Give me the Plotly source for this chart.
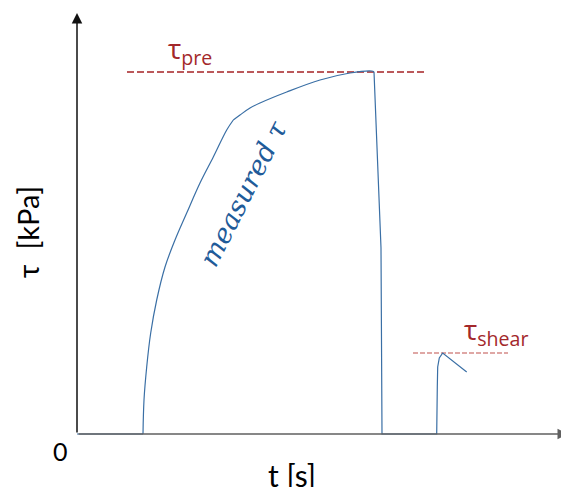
import plotly.graph_objects as go

# schematic tau(t) curve, arbitrary units (t across, tau up)
# loading ramp (smooth part up to the kink)
t_rise = [66, 67, 69.7, 73.7, 79.7, 88, 98, 109.7, 123, 136.3, 149.7, 156.3]
tau_rise = [0, 34, 67, 101, 134, 167, 194, 221, 251, 277, 304, 314]
# flattening towards tau_pre
t_top = [156.3, 163, 173, 183, 209.7, 243, 273, 294.7, 297]
tau_top = [314, 319, 326, 331, 342, 354, 361, 363, 362.3]
# unloading, rest and the shear peak
t_rest = [0, 66, None, 297, 299.7, 301, 304, 305, 359.7, 360.3, 360.7, 362.3, 365.7, 389.7]
tau_rest = [0, 0, None, 362.3, 299, 267, 186, 0, 0, 47, 67, 76, 81, 62]

tau_pre = 362
t_pre_line = [50, 349]
tau_shear = 81
t_shear_line = [336, 431]

blue = '#3a6fa5'
red = '#a3282b'

fig = go.Figure()

fig.add_trace(go.Scatter(x=t_pre_line, y=[tau_pre, tau_pre], mode='lines',
                         line=dict(color='#a52224', width=1.3, dash='7px,3px'), hoverinfo='skip'))
fig.add_trace(go.Scatter(x=t_shear_line, y=[tau_shear, tau_shear], mode='lines',
                         line=dict(color='#c0504d', width=1.1, dash='5px,2px'), hoverinfo='skip'))
for xs, ys, shape in [(t_rise, tau_rise, 'spline'), (t_top, tau_top, 'spline'),
                      (t_rest, tau_rest, 'linear')]:
    fig.add_trace(go.Scatter(x=xs, y=ys, mode='lines', line_shape=shape,
                             line=dict(color=blue, width=1.2), name='measured tau'))

# axes drawn as arrows
fig.add_annotation(x=491, y=0, ax=0, ay=0, xref='x', yref='y', axref='x', ayref='y',
                   text='', showarrow=True, arrowhead=2, arrowsize=1.4, arrowwidth=1.5,
                   arrowcolor='#606060')
fig.add_annotation(x=0, y=421, ax=0, ay=0, xref='x', yref='y', axref='x', ayref='y',
                   text='', showarrow=True, arrowhead=2, arrowsize=1.4, arrowwidth=1.5,
                   arrowcolor='#111111')

sans = 'Lato'
fig.add_annotation(x=113, y=384, text='τ<sub>pre</sub>', showarrow=False,
                   font=dict(family='Open Sans', size=28, color=red))
fig.add_annotation(x=419, y=103, text='τ<sub>shear</sub>', showarrow=False,
                   font=dict(family='Open Sans', size=28, color=red))
fig.add_annotation(x=166, y=241, text='<i>measured τ</i>', showarrow=False, textangle=-63,
                   font=dict(family='DejaVu Serif', size=27, color='#1f5b99'))
fig.add_annotation(x=-50, y=202, text='τ  [kPa]', showarrow=False, textangle=-90,
                   font=dict(family=sans, size=29, color='black'))
fig.add_annotation(x=215, y=-41, text='t [s]', showarrow=False,
                   font=dict(family=sans, size=30, color='black'))
fig.add_annotation(x=-17, y=-17, text='0', showarrow=False,
                   font=dict(family=sans, size=25, color='black'))

fig.update_layout(width=561, height=479, margin=dict(l=0, r=0, t=0, b=0),
                  plot_bgcolor='white', paper_bgcolor='white', showlegend=False)
fig.update_xaxes(range=[-69, 492], visible=False)
fig.update_yaxes(range=[-53, 426], visible=False)

fig.write_html("out.html")
